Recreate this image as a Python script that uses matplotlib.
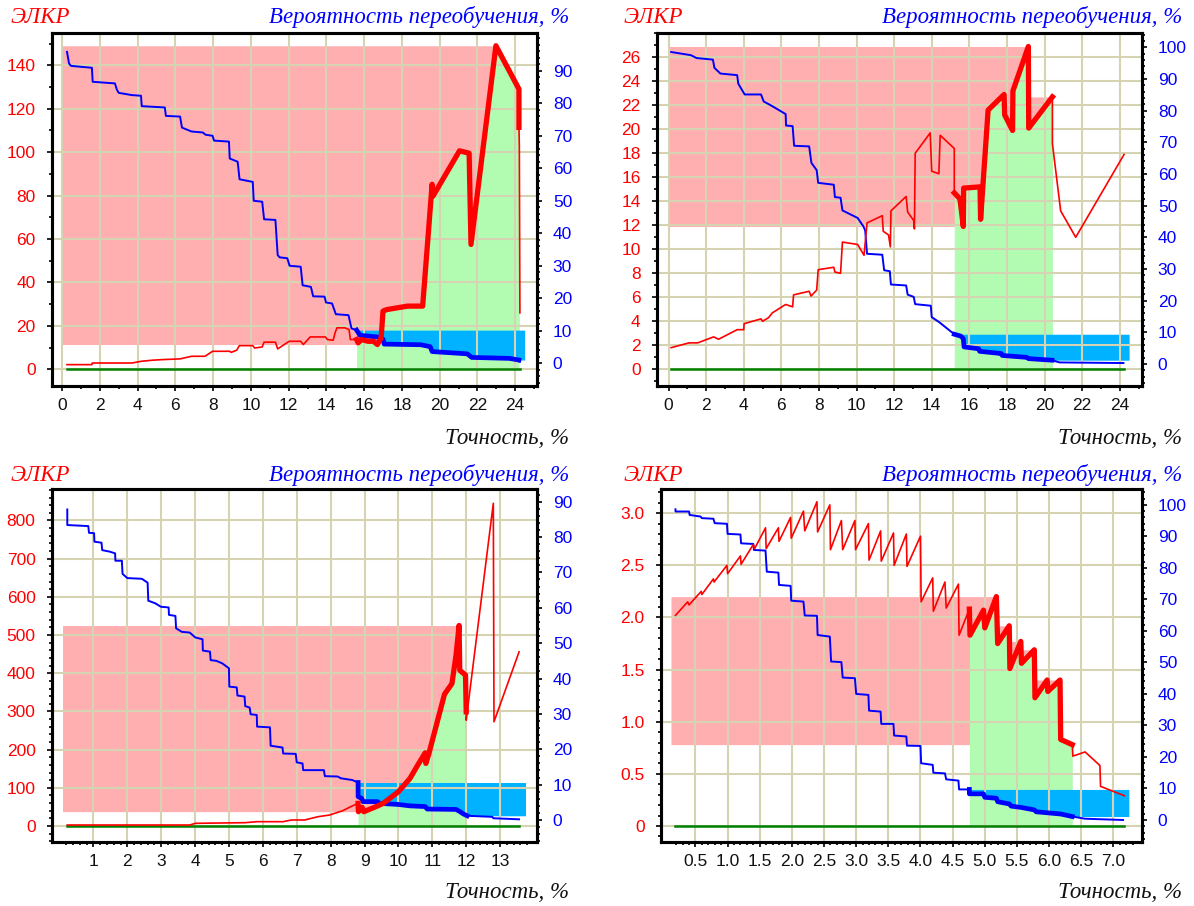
import numpy as np
import matplotlib
matplotlib.use("Agg")
import matplotlib.pyplot as plt
from matplotlib.ticker import (FixedLocator, MultipleLocator, AutoMinorLocator,
                               FuncFormatter)

# ---------------------------------------------------------------- data
# each curve: part before the selected range, selected range, part after
# ELKR (left axis) and overfitting probability, % (right axis) vs accuracy, %

elkr1_head = [(0.26, 2.15), (1.58, 2.15), (1.6, 2.9), (3.7, 2.9), (4.2, 3.7), (4.8, 4.2),
              (5.4, 4.5), (6.25, 4.8), (6.86, 6.0), (7.57, 6.0), (7.97, 8.3), (8.88, 8.3),
              (8.95, 7.8), (9.25, 8.8), (9.39, 10.9), (10.1, 10.9), (10.2, 9.8), (10.6, 10.3),
              (10.7, 12.5), (11.3, 12.5), (11.42, 9.4), (12.03, 12.9), (12.64, 12.9),
              (12.78, 11.4), (13.14, 14.9), (13.95, 14.9), (14.05, 13.7), (14.36, 13.4),
              (14.46, 16.8), (14.56, 19.1), (14.97, 19.1), (15.2, 18.3), (15.27, 13.7)]
elkr1_sel = [(15.6, 13.7), (15.68, 12.2), (15.87, 13.7), (16.2, 12.9), (16.5, 12.9),
             (16.7, 11.4), (16.9, 14.5), (17.0, 26.8), (17.2, 27.5), (18.3, 29.1),
             (19.1, 29.1), (19.6, 85.2), (19.65, 79.8), (21.05, 100.6), (21.56, 99.5),
             (21.66, 57.5), (22.98, 149.0), (24.2, 129.0), (24.2, 111.4)]
elkr1_tail = [(24.22, 102.9), (24.25, 26.0)]

risk1_head = [(0.26, 95.8), (0.37, 92.2), (0.47, 91.5), (1.58, 90.9), (1.62, 86.6),
              (2.8, 86.1), (2.9, 84.2), (3.0, 83.2), (3.7, 82.5), (4.18, 82.3), (4.22, 79.1),
              (5.44, 78.7), (5.5, 76.1), (6.25, 75.9), (6.35, 72.5), (6.86, 71.3),
              (7.46, 71.0), (7.6, 70.3), (7.97, 70.0), (8.05, 68.5), (8.84, 68.2), (8.88, 63.0),
              (9.3, 62.0), (9.4, 56.6), (10.1, 55.8), (10.15, 50.0), (10.6, 49.7), (10.7, 44.3),
              (11.3, 44.1), (11.42, 33.3), (11.52, 32.6), (11.93, 32.3), (12.05, 30.0),
              (12.64, 29.7), (12.74, 24.0), (13.18, 23.5), (13.3, 20.6), (13.9, 20.5),
              (13.98, 18.7), (14.3, 18.4), (14.5, 15.1), (15.17, 14.8), (15.33, 10.7)]
risk1_sel = [(15.6, 10.2), (15.78, 8.6), (16.7, 8.1), (17.0, 7.4), (17.06, 5.9), (19.0, 5.7),
             (19.5, 5.1), (19.6, 3.6), (21.46, 2.9), (21.7, 1.8), (23.7, 1.5), (24.2, 1.0)]
risk1_tail = [(24.22, 0.5)]

elkr2_head = [(0.14, 1.8), (1.09, 2.2), (1.55, 2.2), (2.4, 2.7), (2.66, 2.5), (3.65, 3.3),
              (4.0, 3.3), (4.02, 3.8), (4.92, 4.2), (5.0, 4.0), (5.32, 4.3), (5.52, 4.7),
              (6.23, 5.4), (6.6, 5.2), (6.65, 6.2), (7.48, 6.5), (7.58, 6.1), (7.88, 6.6),
              (7.96, 8.3), (8.79, 8.5), (8.85, 8.1), (9.15, 8.0), (9.25, 10.6), (10.06, 10.4),
              (10.4, 9.5), (10.56, 12.2), (11.37, 12.8), (11.42, 11.5), (11.7, 11.2),
              (11.8, 10.2), (11.83, 13.2), (12.64, 14.4), (12.72, 13.1), (13.04, 12.4),
              (13.08, 11.7), (13.12, 18.0), (13.92, 19.7), (14.0, 16.5), (14.38, 16.3),
              (14.45, 19.5), (15.2, 18.4)]
elkr2_sel = [(15.2, 14.7), (15.5, 14.2), (15.68, 11.9), (15.7, 15.1), (16.57, 15.2),
             (16.6, 12.5), (17.0, 21.6), (17.85, 22.9), (17.88, 21.2), (18.3, 19.9),
             (18.32, 23.2), (19.14, 26.9), (19.16, 20.1), (20.42, 22.7)]
elkr2_tail = [(20.42, 18.8), (20.86, 13.2), (21.66, 11.0), (24.23, 17.9)]

risk2_head = [(0.14, 98.5), (1.19, 97.5), (1.49, 96.6), (2.36, 96.1), (2.44, 93.5),
              (2.76, 91.7), (3.65, 91.2), (3.71, 88.5), (4.05, 85.1), (4.92, 85.1), (5.06, 82.9),
              (5.52, 81.4), (6.23, 78.9), (6.25, 75.3), (6.6, 75.1), (6.68, 68.9), (7.48, 68.7),
              (7.6, 63.5), (7.88, 61.2), (7.96, 57.2), (8.79, 56.6), (8.85, 52.7), (9.15, 52.5),
              (9.25, 48.5), (10.06, 46.1), (10.36, 43.5), (10.46, 42.2), (10.56, 34.8),
              (11.37, 34.5), (11.47, 29.6), (11.77, 29.3), (11.83, 25.1), (12.64, 24.8),
              (12.72, 21.9), (13.04, 21.2), (13.12, 18.9), (13.95, 18.4), (14.0, 14.8),
              (14.4, 13.2)]
risk2_sel = [(15.2, 9.4), (15.55, 8.8), (15.68, 8.0), (15.72, 5.4), (16.5, 4.8), (16.55, 4.0),
             (17.7, 3.3), (17.75, 2.7), (19.05, 2.1), (19.15, 1.7), (20.4, 1.2)]
risk2_tail = [(20.8, 0.5), (24.2, 0.3)]

elkr3_head = [(0.23, 2.6), (3.84, 2.6), (4.01, 7.0), (5.48, 8.7), (5.82, 11.3), (6.6, 11.3),
              (6.84, 15.7), (7.23, 15.7), (7.63, 24.4), (7.97, 28.8), (8.36, 40.1),
              (8.59, 50.5)]
elkr3_sel = [(8.81, 59.3), (8.82, 37.5), (8.93, 48.8), (8.98, 37.5), (9.38, 52.3),
             (9.55, 59.3), (10.0, 89.8), (10.34, 124.6), (10.57, 159.5), (10.79, 191.7),
             (10.81, 163.8), (10.9, 190.0), (11.36, 345.0), (11.58, 373.0), (11.7, 447.0),
             (11.79, 525.0), (11.81, 408.0), (11.98, 395.0), (12.0, 299.0)]
elkr3_tail = [(12.0, 277.0), (12.8, 845.0), (12.82, 273.0), (13.56, 456.0)]

risk3_head = [(0.23, 87.8), (0.23, 83.4), (0.85, 83.1), (0.87, 81.2), (1.02, 81.1),
              (1.03, 78.7), (1.24, 78.4), (1.26, 76.3), (1.47, 75.9), (1.64, 75.4), (1.65, 73.3),
              (1.84, 73.3), (1.86, 69.6), (2.0, 68.4), (2.43, 68.2), (2.6, 67.1), (2.62, 62.0),
              (2.82, 61.3), (2.99, 60.3), (3.22, 60.1), (3.23, 58.0), (3.42, 57.7), (3.44, 54.2),
              (3.61, 53.2), (3.84, 53.0), (4.01, 51.6), (4.22, 51.1), (4.23, 47.9), (4.44, 47.6),
              (4.46, 45.2), (4.63, 45.0), (4.8, 44.3), (5.0, 42.9), (5.01, 37.7), (5.23, 37.5),
              (5.25, 35.2), (5.46, 34.9), (5.48, 32.2), (5.61, 31.8), (5.64, 29.9), (5.82, 29.7),
              (5.83, 26.4), (6.21, 26.2), (6.23, 21.0), (6.44, 20.7), (6.58, 20.5), (6.6, 18.8),
              (6.97, 18.7), (7.0, 16.3), (7.17, 16.0), (7.19, 14.1), (7.8, 14.1), (7.83, 12.4),
              (8.21, 12.3), (8.3, 11.8), (8.64, 11.3), (8.76, 10.8)]
risk3_sel = [(8.81, 10.6), (8.81, 6.6), (8.92, 6.1), (8.95, 5.2), (9.38, 5.2), (9.44, 4.7),
             (10.0, 4.4), (10.34, 4.0), (10.79, 3.8), (10.85, 3.1), (11.7, 3.0), (11.81, 2.4),
             (11.92, 1.7), (12.03, 1.2)]
risk3_tail = [(12.77, 0.9), (12.8, 0.5), (13.56, 0.2)]

elkr4_head = [(0.19, 2.02), (0.38, 2.15), (0.40, 2.12), (0.59, 2.25), (0.60, 2.22),
              (0.78, 2.37), (0.79, 2.34), (0.99, 2.50), (1.0, 2.42), (1.2, 2.59), (1.21, 2.51),
              (1.4, 2.70), (1.42, 2.66), (1.59, 2.86), (1.6, 2.66), (1.79, 2.86), (1.8, 2.73),
              (1.98, 2.96), (1.99, 2.76), (2.18, 3.02), (2.2, 2.83), (2.39, 3.11), (2.4, 2.82),
              (2.59, 3.08), (2.6, 2.65), (2.77, 2.93), (2.79, 2.65), (2.98, 2.93), (2.99, 2.65),
              (3.19, 2.90), (3.2, 2.55), (3.38, 2.83), (3.39, 2.54), (3.58, 2.81), (3.59, 2.50),
              (3.78, 2.80), (3.79, 2.49), (4.0, 2.78), (4.01, 2.15), (4.19, 2.38), (4.2, 2.06),
              (4.38, 2.34), (4.4, 2.09), (4.59, 2.32), (4.6, 1.83)]
elkr4_sel = [(4.76, 2.08), (4.77, 1.83), (4.98, 2.07), (5.0, 1.90), (5.18, 2.20), (5.2, 1.75),
             (5.38, 1.92), (5.39, 1.51), (5.56, 1.77), (5.57, 1.56), (5.77, 1.69), (5.78, 1.23),
             (5.97, 1.40), (5.98, 1.29), (6.17, 1.40), (6.18, 0.83), (6.36, 0.78)]
elkr4_tail = [(6.37, 0.67), (6.56, 0.71), (6.79, 0.58), (6.8, 0.38), (7.17, 0.29)]

risk4_head = [(0.19, 98.6), (0.19, 97.9), (0.4, 97.9), (0.41, 96.8), (0.58, 96.3), (0.6, 95.8),
              (0.78, 95.6), (0.8, 94.2), (0.99, 94.0), (1.0, 90.8), (1.2, 90.6), (1.21, 87.8),
              (1.4, 87.6), (1.41, 85.7), (1.59, 85.5), (1.61, 78.8), (1.79, 78.5), (1.8, 74.6),
              (1.98, 74.3), (1.99, 69.6), (2.18, 69.3), (2.2, 64.9), (2.39, 64.8), (2.4, 58.7),
              (2.59, 58.2), (2.61, 50.3), (2.77, 50.1), (2.79, 45.2), (2.98, 45.0), (3.0, 40.0),
              (3.19, 39.7), (3.2, 34.7), (3.38, 34.4), (3.39, 30.5), (3.58, 30.5), (3.59, 26.8),
              (3.78, 26.5), (3.79, 23.6), (4.0, 23.5), (4.01, 18.0), (4.19, 17.5), (4.2, 15.0),
              (4.38, 14.8), (4.4, 12.9), (4.59, 12.5), (4.6, 9.7)]
risk4_sel = [(4.76, 9.7), (4.76, 8.3), (4.98, 8.3), (5.0, 7.2), (5.18, 6.9), (5.2, 5.8),
             (5.38, 5.1), (5.41, 4.4), (5.56, 4.0), (5.77, 3.2), (5.8, 2.6), (6.18, 1.9),
             (6.36, 1.1)]
risk4_tail = [(6.56, 0.4), (7.15, 0.0)]

# left end of the ELKR band and right end of the probability band, accuracy %
band_from = [0.0, 0.0, 0.09, 0.12]
band_to = [24.5, 24.5, 13.75, 7.24]

elkr = [(elkr1_head, elkr1_sel, elkr1_tail), (elkr2_head, elkr2_sel, elkr2_tail),
        (elkr3_head, elkr3_sel, elkr3_tail), (elkr4_head, elkr4_sel, elkr4_tail)]
risk = [(risk1_head, risk1_sel, risk1_tail), (risk2_head, risk2_sel, risk2_tail),
        (risk3_head, risk3_sel, risk3_tail), (risk4_head, risk4_sel, risk4_tail)]

# ---------------------------------------------------------------- style
W, H = 1194, 906
RED = "#ff0000"
BLUE = "#0000ff"
PINK = "#ffafaf"
LIGHT_GREEN = "#b2fcb2"
CYAN = "#00b2ff"
ZERO_GREEN = "#008000"
GRID = "#d6d3b2"

plt.rcParams["font.family"] = ["Liberation Sans", "DejaVu Sans"]
TITLE_FONT = dict(family=["Liberation Serif", "DejaVu Serif"], style="italic", size=16.5)


def one_decimal(v, pos):
    return "0" if abs(v) < 1e-9 else "%.1f" % v


panels = [
    dict(box=(51.7, 32.7, 536.7, 385.7), xlim=(-0.55, 25.14), ylim=(-7.55, 155.0),
         ylim2=(-6.9, 101.7), xmaj=MultipleLocator(2), xmin=MultipleLocator(1),
         ymaj=MultipleLocator(20), ymin=AutoMinorLocator(2),
         y2maj=FixedLocator(range(0, 91, 10)), xfmt=None, yfmt=None),
    dict(box=(656.7, 32.7, 1141.7, 385.7), xlim=(-0.63, 25.17), ylim=(-1.37, 28.05),
         ylim2=(-6.85, 104.6), xmaj=MultipleLocator(2), xmin=MultipleLocator(1),
         ymaj=FixedLocator(range(0, 27, 2)), ymin=MultipleLocator(1),
         y2maj=MultipleLocator(10), xfmt=None, yfmt=None),
    dict(box=(51.7, 488.7, 536.7, 841.7), xlim=(-0.23, 14.08), ylim=(-41.1, 883.2),
         ylim2=(-6.13, 93.67), xmaj=FixedLocator(range(1, 14)),
         xmin=FixedLocator(np.arange(0.2, 13.81, 0.2)),
         ymaj=MultipleLocator(100), ymin=AutoMinorLocator(5),
         y2maj=MultipleLocator(10), xfmt=None, yfmt=None),
    dict(box=(660.7, 488.5, 1141.7, 841.7), xlim=(-0.04, 7.44), ylim=(-0.151, 3.237),
         ylim2=(-6.89, 105.2), xmaj=FixedLocator(np.arange(0.5, 7.01, 0.5)),
         xmin=FixedLocator(np.arange(0.2, 7.31, 0.1)),
         ymaj=MultipleLocator(0.5), ymin=AutoMinorLocator(5),
         y2maj=MultipleLocator(10), xfmt=FuncFormatter(one_decimal),
         yfmt=FuncFormatter(one_decimal)),
]

# caption anchors: left of "ЭЛКР", right edge of captions, two baselines
captions = [(10.7, 569, 23.3, 444.3), (623.5, 1182, 23.3, 444.3),
            (10.7, 569, 480.7, 898.3), (623.5, 1182, 480.7, 898.3)]


def as_xy(points):
    return np.asarray(points, dtype=float).reshape(-1, 2)


def draw_panel(fig, spec, elkr_parts, risk_parts, x_from, x_to):
    l, t, r, b = spec["box"]
    ax = fig.add_axes([l / W, 1 - b / H, (r - l) / W, (b - t) / H])
    ax2 = ax.twinx()
    ax.set_xlim(*spec["xlim"])
    ax.set_ylim(*spec["ylim"])
    ax2.set_ylim(*spec["ylim2"])
    right = ax2.transData

    head, sel, tail = [as_xy(p) for p in elkr_parts]
    rhead, rsel, rtail = [as_xy(p) for p in risk_parts]
    curve = np.vstack([head, sel, tail])
    rcurve = np.vstack([rhead, rsel, rtail])

    # ELKR band over the selected range: from its minimum up to the running max from the right
    upper = np.maximum.accumulate(sel[::-1, 1])[::-1]
    ax.fill_between(np.r_[x_from, sel[:, 0]], sel[:, 1].min(), np.r_[upper[0], upper],
                    color=PINK, lw=0, zorder=0.1)
    ax.fill_between(sel[:, 0], 0, sel[:, 1], color=LIGHT_GREEN, lw=0, zorder=0.2)

    # probability band, right scale
    ax.fill_between(np.r_[rsel[:, 0], x_to], np.r_[rsel[:, 1], rsel[-1, 1]],
                    rsel[:, 1].max(), color=CYAN, lw=0, zorder=0.3, transform=right)

    ax.plot([curve[0, 0], curve[-1, 0]], [0, 0], color=ZERO_GREEN, lw=1.8, zorder=2)
    ax.plot(rcurve[:, 0], rcurve[:, 1], color=BLUE, lw=1.4, zorder=3, transform=right)
    ax.plot(rsel[:, 0], rsel[:, 1], color=BLUE, lw=3.4, zorder=3.1, transform=right,
            solid_joinstyle="round")
    ax.plot(curve[:, 0], curve[:, 1], color=RED, lw=1.2, zorder=4)
    ax.plot(sel[:, 0], sel[:, 1], color=RED, lw=3.8, zorder=4.1, solid_joinstyle="round")

    ax.set_axisbelow(True)
    ax.grid(True, which="major", color=GRID, lw=1.5)

    ax.xaxis.set_major_locator(spec["xmaj"])
    ax.xaxis.set_minor_locator(spec["xmin"])
    ax.yaxis.set_major_locator(spec["ymaj"])
    ax.yaxis.set_minor_locator(spec["ymin"])
    ax2.yaxis.set_major_locator(spec["y2maj"])
    ax2.yaxis.set_minor_locator(AutoMinorLocator(5))
    if spec["xfmt"] is not None:
        ax.xaxis.set_major_formatter(spec["xfmt"])
    if spec["yfmt"] is not None:
        ax.yaxis.set_major_formatter(spec["yfmt"])

    ax.tick_params(axis="x", which="major", length=3.6, width=1.2, pad=5,
                   labelsize=12.5, labelcolor="#111111")
    ax.tick_params(axis="x", which="minor", length=2, width=1.2)
    ax.tick_params(axis="y", which="major", length=3.6, width=1.2, pad=8,
                   labelsize=12.5, labelcolor=RED)
    ax.tick_params(axis="y", which="minor", length=2, width=1.2)
    ax2.tick_params(axis="y", which="major", length=3.6, width=1.2, pad=8,
                    labelsize=12.5, labelcolor=BLUE)
    ax2.tick_params(axis="y", which="minor", length=2, width=1.2)

    for a in (ax, ax2):
        for s in a.spines.values():
            s.set_linewidth(2.2)
            s.set_color("black")


fig = plt.figure(figsize=(W / 100, H / 100), dpi=100)
for spec, e, rk, x0, x1, cap in zip(panels, elkr, risk, band_from, band_to, captions):
    draw_panel(fig, spec, e, rk, x0, x1)
    cl, cr, ytop, ybot = cap
    fig.text(cl / W, 1 - ytop / H, "ЭЛКР", color=RED, ha="left", va="baseline", **TITLE_FONT)
    fig.text(cr / W, 1 - ytop / H, "Вероятность переобучения, %", color=BLUE,
             ha="right", va="baseline", **TITLE_FONT)
    fig.text(cr / W, 1 - ybot / H, "Точность, %", color="#111111",
             ha="right", va="baseline", **TITLE_FONT)

fig.savefig("out.png", dpi=100)
